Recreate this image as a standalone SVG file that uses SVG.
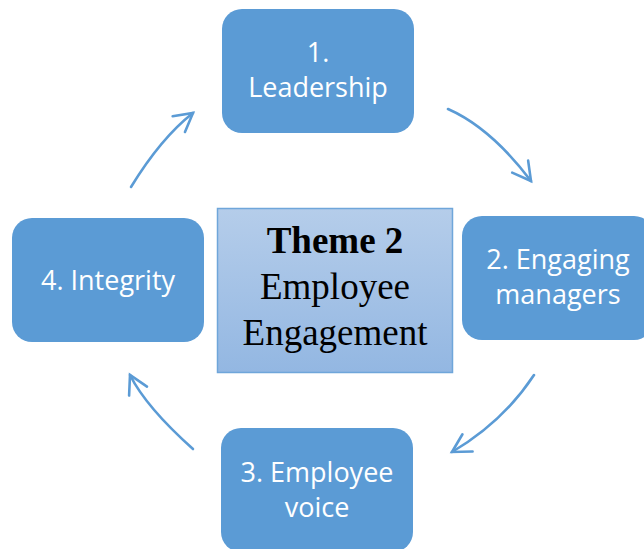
<svg xmlns="http://www.w3.org/2000/svg" width="644" height="549" viewBox="0 0 644 549">
  <style>
    .box { fill: #5b9bd5; }
    .lbl { font-family: "Open Sans", "Liberation Sans", sans-serif; font-size: 27px; fill: #ffffff; text-anchor: middle; }
    .ctr { font-family: "Liberation Serif", "Times New Roman", serif; font-size: 37px; fill: #000000; text-anchor: middle; }
    .arc { fill: none; stroke: #5b9bd5; stroke-width: 2.6; stroke-linecap: round; marker-end: url(#chev); }
  </style>
  <defs>
    <linearGradient id="cg" x1="0" y1="0" x2="0" y2="1">
      <stop offset="0" stop-color="#b5cdea"/>
      <stop offset="1" stop-color="#93b7e2"/>
    </linearGradient>
    <marker id="chev" markerUnits="userSpaceOnUse" markerWidth="30" markerHeight="30" refX="0" refY="0" orient="auto" overflow="visible">
      <path d="M-18,-10 L0,0 L-18,10" fill="none" stroke="#5b9bd5" stroke-width="2.6" stroke-linecap="round" stroke-linejoin="miter"/>
    </marker>
  </defs>

  <g id="connectors">
    <path class="arc" d="M448,109 Q491,128 531,181"/>
    <path class="arc" d="M534,375 Q503,422 452,452"/>
    <path class="arc" d="M193,449 Q146,407 130,375"/>
    <path class="arc" d="M131,187 Q161,138 193,113"/>
  </g>

  <g id="center">
    <rect x="217.5" y="208.5" width="235" height="164" fill="url(#cg)" stroke="#6fa6da" stroke-width="1.5"/>
    <text class="ctr" x="335" y="253" font-weight="bold" font-size="36">Theme 2</text>
    <text class="ctr" x="335" y="299">Employee</text>
    <text class="ctr" x="335" y="345">Engagement</text>
  </g>

  <g id="node1">
    <rect class="box" x="222" y="9" width="192" height="124" rx="20"/>
    <text class="lbl" x="318" y="62">1.</text>
    <text class="lbl" x="318" y="97">Leadership</text>
  </g>

  <g id="node2">
    <rect class="box" x="462" y="216" width="192" height="124" rx="20"/>
    <text class="lbl" x="558" y="269">2. Engaging</text>
    <text class="lbl" x="558" y="304">managers</text>
  </g>

  <g id="node3">
    <rect class="box" x="221" y="428" width="192" height="124" rx="20"/>
    <text class="lbl" x="317" y="482">3. Employee</text>
    <text class="lbl" x="317" y="517">voice</text>
  </g>

  <g id="node4">
    <rect class="box" x="12" y="218" width="192" height="124" rx="20"/>
    <text class="lbl" x="108" y="290">4. Integrity</text>
  </g>
</svg>
